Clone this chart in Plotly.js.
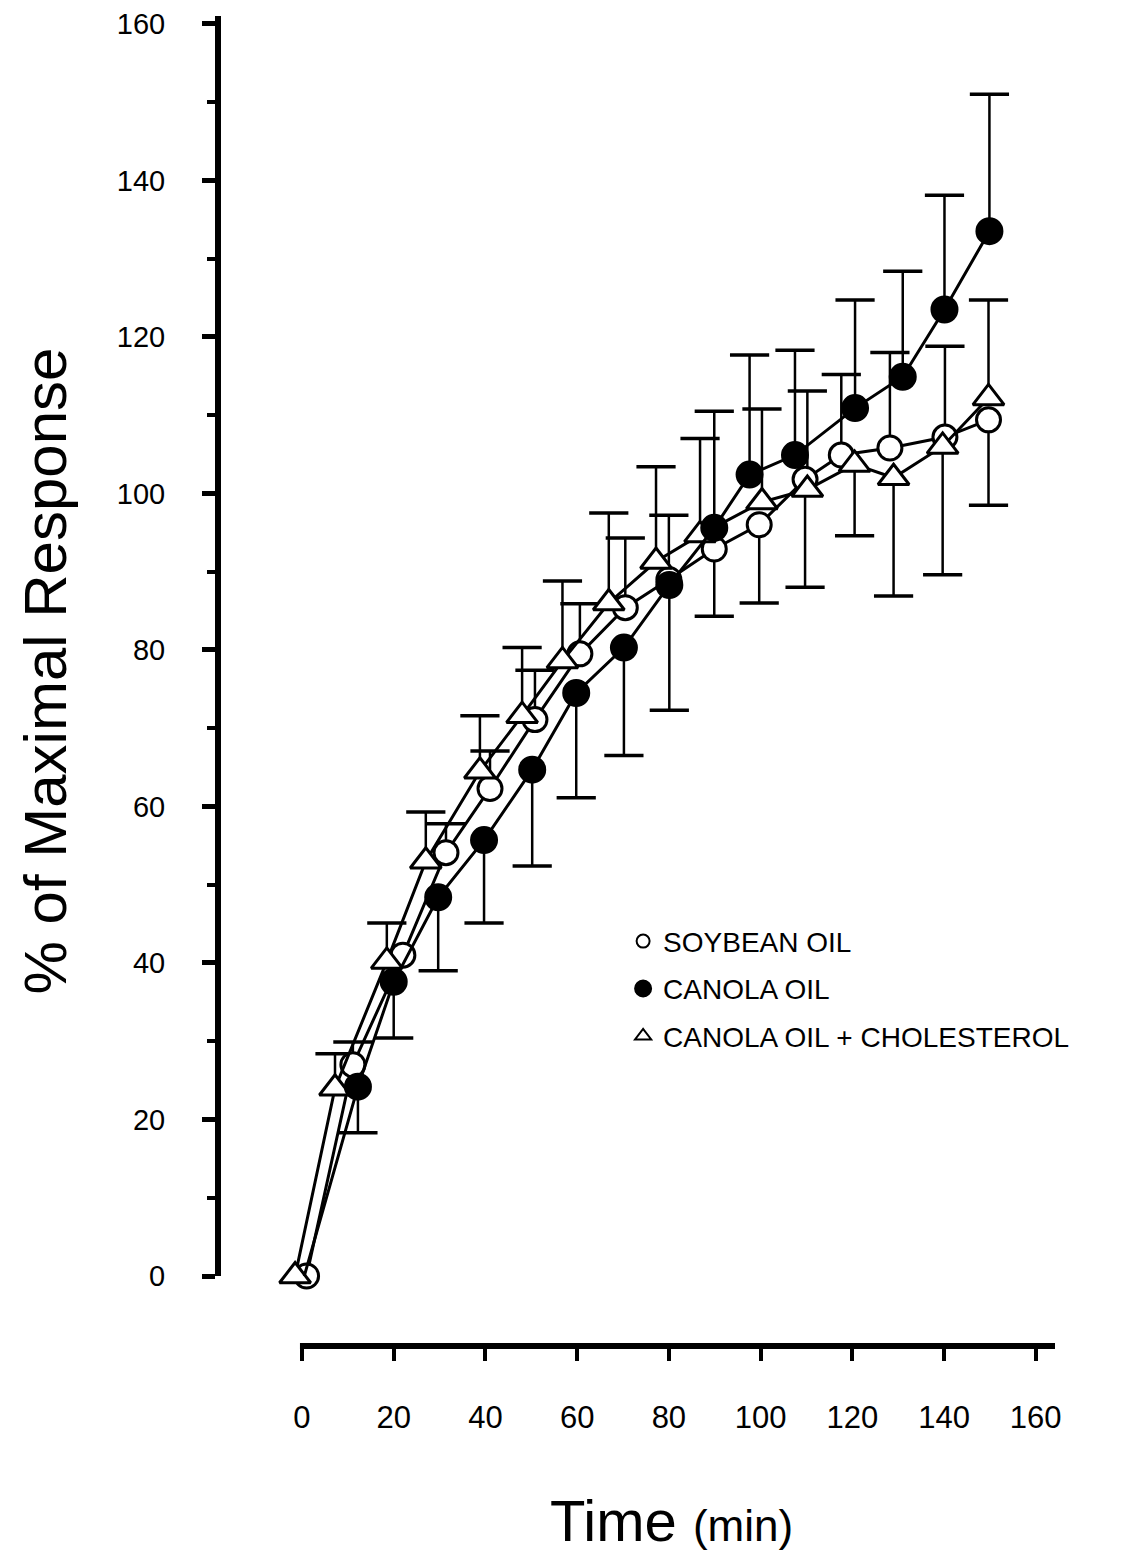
<!DOCTYPE html>
<html>
<head>
<meta charset="utf-8">
<script src="https://cdn.plot.ly/plotly-3.0.1.min.js"></script>
<style>html,body{margin:0;padding:0;background:#fff;}#chart{width:1130px;height:1557px;}</style>
</head>
<body>
<div id="chart"></div>
<script>
// ---- data ----
const seriesNames = ["SOYBEAN OIL", "CANOLA OIL", "CANOLA OIL + CHOLESTEROL"];

const soyX = [1.0, 11.1, 22, 31.4, 41, 50.8, 60.6, 70.5, 80, 89.9, 99.7, 109.7, 117.6, 128.2, 140.2, 149.7];
const soyY = [0, 27.0, 41.0, 54.1, 62.3, 71.1, 79.5, 85.4, 89.0, 92.9, 96.0, 101.8, 104.9, 105.8, 107.2, 109.4];
const soyErrUp   = [null, 2.9, null, 3.7, 4.8, 6.3, 6.4, 8.9, 8.2, null, null, null, 10.3, 12.2, 11.6, null];
const soyErrDown = [null, null, null, null, null, null, null, null, null, 8.6, 10.0, 13.8, null, null, null, 10.9];

const canX = [0.5, 12.2, 20, 29.7, 39.7, 50.2, 59.8, 70.2, 80.1, 89.9, 97.6, 107.5, 120.6, 131, 140.1, 149.9];
const canY = [0, 24.2, 37.6, 48.4, 55.7, 64.7, 74.5, 80.3, 88.3, 95.6, 102.4, 104.9, 110.9, 114.9, 123.5, 133.5];
const canErrUp   = [null, null, null, null, null, null, null, null, null, 14.9, 15.3, 13.4, 13.8, 13.5, 14.6, 17.5];
const canErrDown = [null, 5.9, 7.2, 9.4, 10.6, 12.3, 13.4, 13.8, 16.0, null, null, null, null, null, null, null];

const cholX = [-1.5, 7.2, 18.5, 27, 38.8, 48, 56.8, 66.9, 77.2, 86.8, 100.3, 110.2, 120.5, 129, 139.7, 149.7];
const cholY = [0, 24.0, 40.2, 53.0, 64.5, 71.6, 78.6, 86.0, 91.3, 94.7, 98.9, 100.5, 103.7, 102.0, 106.0, 112.2];
const cholErrUp   = [null, 4.4, 4.9, 6.3, 7.1, 8.7, 10.2, 11.5, 12.1, 12.3, 11.9, 12.6, null, null, null, 12.5];
const cholErrDown = [null, null, null, null, null, null, null, null, null, null, null, null, 9.1, 15.1, 16.4, null];

const xTickVals = [0, 20, 40, 60, 80, 100, 120, 140, 160];
const yTickVals = [0, 20, 40, 60, 80, 100, 120, 140, 160];

// ---- helpers ----
const FONT = "Liberation Sans, Arial, Helvetica, sans-serif";
const LW = 3;

function errorTrace(xs, ys, up, down) {
  const ex = [], ey = [], plus = [], minus = [];
  xs.forEach((x, i) => {
    if (up[i] != null) { ex.push(x); ey.push(ys[i] + up[i]); plus.push(0); minus.push(up[i]); }
    if (down[i] != null) { ex.push(x); ey.push(ys[i] - down[i]); plus.push(down[i]); minus.push(0); }
  });
  return {
    type: "scatter", mode: "markers", x: ex, y: ey, showlegend: false, hoverinfo: "skip",
    cliponaxis: false,
    marker: { symbol: "line-ew", size: 28, color: "#000", line: { color: "#000", width: 3.5 } },
    error_y: { type: "data", symmetric: false, array: plus, arrayminus: minus, width: 0, thickness: 2.5, color: "#000" }
  };
}

function mainTrace(xs, ys, symbol, fill, size, opacity) {
  return {
    type: "scatter", mode: "lines+markers", x: xs, y: ys, showlegend: false, cliponaxis: false,
    line: { color: "#000", width: LW },
    marker: { symbol: symbol, size: size, color: fill, opacity: opacity, line: { color: "#000", width: LW } }
  };
}

function legendTrace(name, symbol, fill, size, group) {
  return {
    type: "scatter", mode: "markers", x: [null], y: [null], name: name, legendgroup: group,
    showlegend: true,
    marker: { symbol: symbol, size: size, color: fill, line: { color: "#000", width: 2 } }
  };
}

// the canola marker at t=0 is hidden behind the soybean marker in the original
const canOpacity = canX.map((_, i) => (i === 0 ? 0 : 1));

const data = [
  errorTrace(soyX, soyY, soyErrUp, soyErrDown),
  errorTrace(cholX, cholY, cholErrUp, cholErrDown),
  errorTrace(canX, canY, canErrUp, canErrDown),
  mainTrace(soyX, soyY, "circle", "#fff", 24, 1),
  mainTrace(cholX, cholY, "triangle-up", "#fff", 27, 1),
  mainTrace(canX, canY, "circle", "#000", 25, canOpacity),
  legendTrace(seriesNames[0], "circle", "#fff", 13, "a"),
  legendTrace(seriesNames[1], "circle", "#000", 16, "b"),
  legendTrace(seriesNames[2], "triangle-up", "#fff", 14, "c")
];

const xLineStart = -0.44, xLineEnd = 164.2;

const layout = {
  width: 1130, height: 1557,
  margin: { l: 218, r: 75, t: 16, b: 211, pad: 0 },
  paper_bgcolor: "#fff", plot_bgcolor: "#fff",
  font: { family: FONT, color: "#000" },
  showlegend: true,
  legend: {
    x: 0.484, y: 0.323, xanchor: "left", yanchor: "top",
    bgcolor: "rgba(0,0,0,0)", borderwidth: 0,
    font: { family: FONT, size: 28, color: "#000" },
    tracegroupgap: 8, traceorder: "grouped", itemsizing: "trace"
  },
  shapes: [{
    type: "line", xref: "x", yref: "paper", x0: xLineStart, x1: xLineEnd, y0: 0, y1: 0,
    line: { color: "#000", width: 6 }, layer: "above"
  }],
  xaxis: {
    domain: [0.0839, 1], range: [-3, xLineEnd],
    anchor: "free", position: 0,
    showline: false,
    showgrid: false, zeroline: false,
    tickmode: "array", tickvals: xTickVals, ticktext: xTickVals.map(String),
    ticks: "outside", ticklen: 14, tickwidth: 4, tickcolor: "#000",
    ticklabelstandoff: 30,
    tickfont: { family: FONT, size: 31, color: "#000" },
    title: {
      text: 'Time <span style="font-size:44px">(min)</span>',
      font: { family: FONT, size: 58, color: "#000" },
      standoff: 66
    }
  },
  yaxis: {
    domain: [0.0526, 1], range: [0, 161],
    anchor: "free", position: 0,
    showline: true, linewidth: 6, linecolor: "#000",
    showgrid: false, zeroline: false,
    tickmode: "array", tickvals: yTickVals, ticktext: yTickVals.map(String),
    ticks: "outside", ticklen: 13, tickwidth: 5, tickcolor: "#000",
    minor: { dtick: 10, ticks: "outside", ticklen: 8, tickwidth: 4, tickcolor: "#000", showgrid: false },
    ticklabelstandoff: 31,
    tickfont: { family: FONT, size: 29, color: "#000" },
    title: {
      text: "% of Maximal Response&nbsp;&nbsp;&nbsp;",
      font: { family: FONT, size: 60, color: "#000" },
      standoff: 30
    }
  }
};

Plotly.newPlot("chart", data, layout, { staticPlot: true, displayModeBar: false });
</script>
</body>
</html>
